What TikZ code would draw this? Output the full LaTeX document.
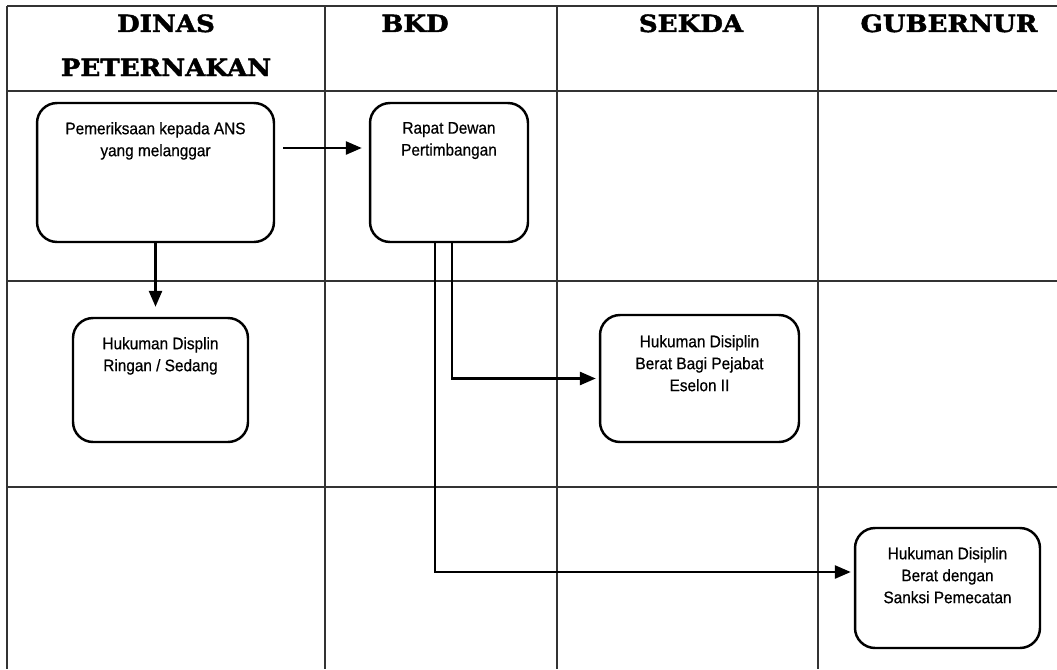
\documentclass[tikz,border=0pt]{standalone}
\usepackage{fontspec}
\newfontfamily\boxfont[FakeStretch=0.92, FakeBold=0.6]{Liberation Sans}
\newfontfamily\headfont[FakeStretch=1.1, BoldFeatures={FakeBold=1.8}]{DejaVu Serif}
\usetikzlibrary{positioning, arrows.meta}
\tikzset{
	lanetext/.style={font=\headfont\bfseries\fontsize{13.5}{16}\selectfont, inner sep=0pt}
}
\tikzset{
	boxtext/.style={font=\boxfont\fontsize{9.5}{12.5}\selectfont, align=center, inner sep=0pt}
}
\tikzset{
	procbox/.style={draw, line width=1.4pt, rounded corners=0.4cm}
}
\tikzset{
	flow/.style={line width=1.5pt, -{Triangle[length=0.32cm, width=0.26cm]}}
}
\tikzset{
	laneline/.style={line width=0.6pt, black!80}
}

\begin{document}
\begin{tikzpicture}[x=0.02cm, y=-0.02cm]
  \useasboundingbox (0,0) rectangle (1057,669);
  % lanes
  \draw[laneline] (7,6) -- (1057,6);
  \draw[laneline] (7,91) -- (1057,91);
  \draw[laneline] (7,281) -- (1057,281);
  \draw[laneline] (7,487) -- (1057,487);
  \draw[laneline] (7,6) -- (7,669);
  \draw[laneline] (325,6) -- (325,669);
  \draw[laneline] (557,6) -- (557,669);
  \draw[laneline] (818,6) -- (818,669);
  % headers
  \node[lanetext, anchor=base] (hdinas) at (166,32) {DINAS};
  \node[lanetext, anchor=base] (hternak) at (166,76) {PETERNAKAN};
  \node[lanetext, anchor=base] (hbkd) at (415,32) {BKD};
  \node[lanetext, anchor=base] (hsekda) at (691,32) {SEKDA};
  \node[lanetext, anchor=base] (hgub) at (949,32) {GUBERNUR};
  % boxes
  \node[procbox, minimum width=4.74cm, minimum height=2.78cm] (periksa) at (155.5,172.5) {};
  \node[boxtext, below=0.4cm of periksa.north] {Pemeriksaan kepada ANS\\yang melanggar};
  \node[procbox, minimum width=3.16cm, minimum height=2.78cm] (rapat) at (449,172.5) {};
  \node[boxtext, below=0.4cm of rapat.north] {Rapat Dewan\\Pertimbangan};
  \node[procbox, minimum width=3.5cm, minimum height=2.48cm] (ringan) at (160.5,380) {};
  \node[boxtext, below=0.4cm of ringan.north] {Hukuman Displin\\Ringan / Sedang};
  \node[procbox, minimum width=3.98cm, minimum height=2.54cm] (eselon) at (699.5,378.5) {};
  \node[boxtext, below=0.42cm of eselon.north] {Hukuman Disiplin\\Berat Bagi Pejabat\\Eselon II};
  \node[procbox, minimum width=3.7cm, minimum height=2.4cm] (pecat) at (947.5,588) {};
  \node[boxtext, below=0.4cm of pecat.north] {Hukuman Disiplin\\Berat dengan\\Sanksi Pemecatan};
  % flows
  \draw[flow, shorten <=0.16cm, shorten >=0.14cm] ([yshift=0.49cm]periksa.east) -- ([yshift=0.49cm]rapat.west);
  \draw[flow, shorten >=0.2cm] (periksa.south) -- (periksa.south |- ringan.north);
  \draw[flow, shorten >=0.06cm] ([xshift=0.06cm]rapat.south) |- (eselon.west);
  \draw[flow, shorten >=0.06cm] ([xshift=-0.28cm]rapat.south) |- ([yshift=0.32cm]pecat.west);
\end{tikzpicture}
\end{document}
